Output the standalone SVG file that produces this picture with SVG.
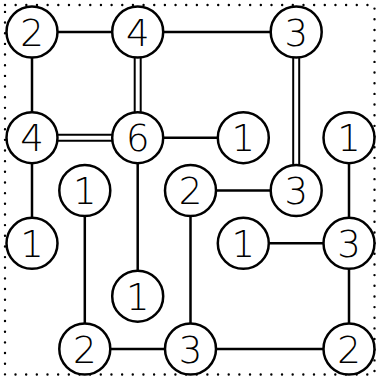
<svg xmlns="http://www.w3.org/2000/svg" width="376" height="379" viewBox="0 0 376 379">
<style>
.n circle{fill:#fff;stroke:#000;stroke-width:2.5}
.n text{font-family:"DejaVu Sans",sans-serif;font-weight:300;font-size:37px;text-anchor:middle;fill:#000}
.c line{stroke:#000;stroke-width:2.5}
.c line.d{stroke-width:2}
</style>
<rect x="5" y="5" width="369.5" height="369.5" fill="none" stroke="#000" stroke-width="2.4" stroke-dasharray="0.01 10.65" stroke-linecap="round"/>
<g id="connectors" class="c">
<line x1="32" y1="32" x2="137.7" y2="32"/>
<line x1="137.7" y1="32" x2="296.2" y2="32"/>
<line x1="32" y1="32" x2="32" y2="137.7"/>
<line class="d" x1="134.7" y1="32" x2="134.7" y2="137.7"/>
<line class="d" x1="140.7" y1="32" x2="140.7" y2="137.7"/>
<line class="d" x1="293.2" y1="32" x2="293.2" y2="190.5"/>
<line class="d" x1="299.2" y1="32" x2="299.2" y2="190.5"/>
<line class="d" x1="32" y1="134.7" x2="137.7" y2="134.7"/>
<line class="d" x1="32" y1="140.7" x2="137.7" y2="140.7"/>
<line x1="137.7" y1="137.7" x2="243.3" y2="137.7"/>
<line x1="32" y1="137.7" x2="32" y2="243.3"/>
<line x1="137.7" y1="137.7" x2="137.7" y2="296.2"/>
<line x1="84.8" y1="190.5" x2="84.8" y2="349"/>
<line x1="190.5" y1="190.5" x2="296.2" y2="190.5"/>
<line x1="190.5" y1="190.5" x2="190.5" y2="349"/>
<line x1="349" y1="137.7" x2="349" y2="243.3"/>
<line x1="243.3" y1="243.3" x2="349" y2="243.3"/>
<line x1="349" y1="243.3" x2="349" y2="349"/>
<line x1="84.8" y1="349" x2="190.5" y2="349"/>
<line x1="190.5" y1="349" x2="349" y2="349"/>
</g>
<g id="n1" class="n"><circle cx="32" cy="32" r="25.5"/><text x="32" y="45.5">2</text></g>
<g id="n2" class="n"><circle cx="137.7" cy="32" r="25.5"/><text x="137.7" y="45.5">4</text></g>
<g id="n3" class="n"><circle cx="296.2" cy="32" r="25.5"/><text x="296.2" y="45.5">3</text></g>
<g id="n4" class="n"><circle cx="32" cy="137.7" r="25.5"/><text x="32" y="151.2">4</text></g>
<g id="n5" class="n"><circle cx="137.7" cy="137.7" r="25.5"/><text x="137.7" y="151.2">6</text></g>
<g id="n6" class="n"><circle cx="243.3" cy="137.7" r="25.5"/><text x="243.3" y="151.2">1</text></g>
<g id="n7" class="n"><circle cx="349" cy="137.7" r="25.5"/><text x="349" y="151.2">1</text></g>
<g id="n8" class="n"><circle cx="84.8" cy="190.5" r="25.5"/><text x="84.8" y="204">1</text></g>
<g id="n9" class="n"><circle cx="190.5" cy="190.5" r="25.5"/><text x="190.5" y="204">2</text></g>
<g id="n10" class="n"><circle cx="296.2" cy="190.5" r="25.5"/><text x="296.2" y="204">3</text></g>
<g id="n11" class="n"><circle cx="32" cy="243.3" r="25.5"/><text x="32" y="256.8">1</text></g>
<g id="n12" class="n"><circle cx="243.3" cy="243.3" r="25.5"/><text x="243.3" y="256.8">1</text></g>
<g id="n13" class="n"><circle cx="349" cy="243.3" r="25.5"/><text x="349" y="256.8">3</text></g>
<g id="n14" class="n"><circle cx="137.7" cy="296.2" r="25.5"/><text x="137.7" y="309.7">1</text></g>
<g id="n15" class="n"><circle cx="84.8" cy="349" r="25.5"/><text x="84.8" y="362.5">2</text></g>
<g id="n16" class="n"><circle cx="190.5" cy="349" r="25.5"/><text x="190.5" y="362.5">3</text></g>
<g id="n17" class="n"><circle cx="349" cy="349" r="25.5"/><text x="349" y="362.5">2</text></g>
</svg>
